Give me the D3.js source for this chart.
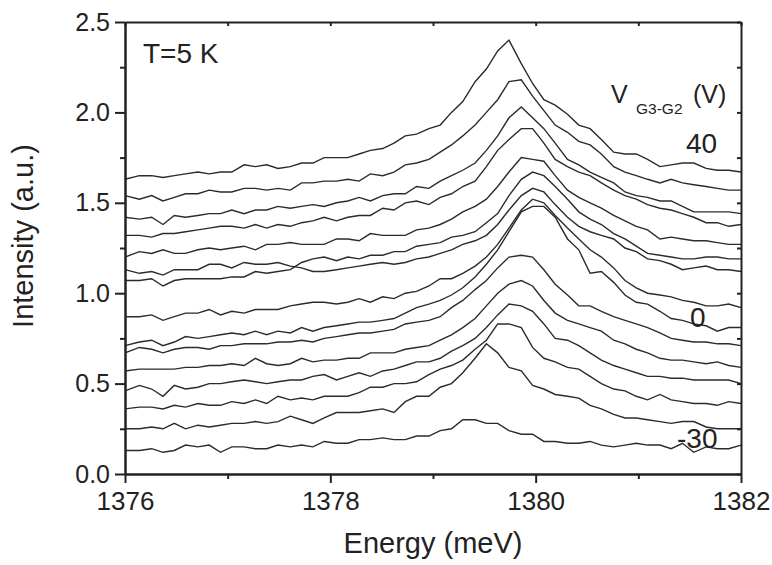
<!DOCTYPE html>
<meta charset="utf-8">
<style>
body { margin: 0; background: #fff; }
svg text { font-family: "Liberation Sans", Arial, sans-serif; fill: #222; }
.curve { fill: none; stroke: #2b2b2b; stroke-width: 1.4; }
.axis path, .axis line { stroke: #222; stroke-width: 2; }
</style>
<svg width="772" height="565"></svg>
<script src="https://d3js.org/d3.v7.min.js"></script>
<script>

// photon energy (meV), shared by every spectrum
var energy = [1376.00,1376.14,1376.26,1376.37,1376.48,1376.59,1376.71,1376.82,1376.93,1377.04,
  1377.16,1377.27,1377.38,1377.49,1377.61,1377.72,1377.83,1377.94,1378.06,1378.17,
  1378.28,1378.39,1378.51,1378.62,1378.73,1378.84,1378.96,1379.07,1379.18,1379.29,
  1379.41,1379.52,1379.63,1379.74,1379.86,1379.97,1380.08,1380.19,1380.31,1380.42,
  1380.53,1380.64,1380.76,1380.87,1380.98,1381.09,1381.21,1381.32,1381.43,1381.54,
  1381.66,1381.77,1381.88,1382.00];

// PL intensity (a.u., offset) for each gate voltage V_G3-G2
var s40 = [1.63,1.65,1.65,1.64,1.65,1.66,1.67,1.66,1.67,1.67,1.71,1.70,1.71,1.69,1.70,1.72,1.72,1.75,1.75,1.75,1.77,1.79,1.80,1.83,1.87,1.88,1.91,
  1.93,2.00,2.06,2.17,2.24,2.34,2.40,2.27,2.16,2.07,2.04,1.99,1.93,1.91,1.85,1.78,1.77,1.77,1.74,
  1.70,1.71,1.72,1.72,1.69,1.68,1.68,1.67];
var s35 = [1.54,1.52,1.54,1.51,1.53,1.55,1.55,1.57,1.56,1.56,1.58,1.58,1.57,1.58,1.57,1.61,1.61,1.62,1.62,1.63,1.62,1.66,1.65,1.67,1.71,1.72,1.74,
  1.78,1.82,1.87,1.93,2.00,2.07,2.17,2.18,2.09,2.01,1.93,1.89,1.84,1.82,1.77,1.70,1.67,1.65,1.63,
  1.61,1.63,1.61,1.60,1.59,1.58,1.57,1.57];
var s30 = [1.42,1.41,1.42,1.38,1.43,1.42,1.43,1.44,1.44,1.46,1.44,1.46,1.46,1.48,1.47,1.48,1.49,1.48,1.50,1.51,1.53,1.51,1.54,1.55,1.55,1.59,1.58,
  1.62,1.65,1.68,1.72,1.79,1.87,1.97,2.03,1.97,1.91,1.83,1.74,1.71,1.67,1.64,1.61,1.56,1.54,1.53,
  1.51,1.51,1.48,1.45,1.45,1.45,1.45,1.44];
var s25 = [1.32,1.32,1.31,1.33,1.33,1.34,1.35,1.36,1.37,1.37,1.36,1.38,1.36,1.38,1.37,1.39,1.40,1.42,1.40,1.42,1.43,1.43,1.47,1.46,1.50,1.51,1.49,
  1.53,1.55,1.59,1.62,1.70,1.79,1.85,1.91,1.91,1.83,1.74,1.70,1.67,1.65,1.61,1.57,1.54,1.52,1.49,
  1.47,1.46,1.44,1.42,1.39,1.39,1.37,1.38];
var s20 = [1.20,1.23,1.22,1.24,1.22,1.22,1.24,1.25,1.24,1.25,1.26,1.24,1.27,1.27,1.28,1.27,1.27,1.27,1.30,1.30,1.29,1.33,1.32,1.32,1.32,1.35,1.36,
  1.38,1.41,1.45,1.48,1.52,1.59,1.67,1.75,1.74,1.73,1.65,1.57,1.53,1.50,1.47,1.43,1.40,1.37,1.35,
  1.30,1.31,1.30,1.29,1.29,1.28,1.27,1.27];
var s15 = [1.07,1.07,1.08,1.04,1.07,1.08,1.08,1.08,1.08,1.09,1.09,1.12,1.11,1.12,1.13,1.17,1.19,1.20,1.18,1.20,1.19,1.21,1.21,1.23,1.23,1.26,1.27,
  1.28,1.31,1.32,1.34,1.39,1.44,1.54,1.63,1.67,1.65,1.59,1.52,1.45,1.41,1.38,1.33,1.30,1.26,1.22,
  1.21,1.20,1.19,1.19,1.20,1.20,1.19,1.19];
var s10 = [1.13,1.11,1.12,1.10,1.13,1.13,1.13,1.16,1.16,1.14,1.17,1.16,1.16,1.17,1.15,1.14,1.12,1.12,1.13,1.14,1.15,1.16,1.17,1.16,1.17,1.19,1.20,
  1.22,1.24,1.27,1.29,1.32,1.38,1.46,1.54,1.58,1.56,1.49,1.42,1.37,1.34,1.32,1.30,1.25,1.23,1.19,
  1.18,1.16,1.13,1.14,1.15,1.13,1.13,1.12];
var s5 = [0.87,0.87,0.88,0.85,0.87,0.89,0.89,0.91,0.88,0.90,0.89,0.91,0.91,0.91,0.93,0.94,0.95,0.95,0.94,0.95,0.97,0.95,0.98,0.97,1.00,1.01,1.04,
  1.08,1.08,1.11,1.15,1.20,1.27,1.36,1.46,1.52,1.50,1.43,1.36,1.30,1.24,1.20,1.14,1.07,1.03,1.00,
  0.99,0.98,0.96,0.95,0.93,0.93,0.94,0.92];
var s0 = [0.71,0.73,0.74,0.71,0.73,0.76,0.75,0.76,0.77,0.78,0.77,0.79,0.77,0.79,0.78,0.81,0.79,0.81,0.82,0.83,0.84,0.84,0.85,0.86,0.89,0.92,0.94,
  0.96,0.99,1.03,1.09,1.16,1.24,1.34,1.45,1.48,1.48,1.42,1.30,1.24,1.11,1.12,1.06,0.99,0.95,0.94,
  0.90,0.86,0.85,0.83,0.82,0.79,0.81,0.81];
var sm5 = [0.67,0.70,0.69,0.67,0.69,0.70,0.70,0.69,0.71,0.71,0.72,0.72,0.72,0.73,0.73,0.74,0.73,0.75,0.76,0.77,0.78,0.78,0.79,0.80,0.83,0.84,0.85,
  0.87,0.92,0.96,1.02,1.07,1.14,1.20,1.21,1.20,1.13,1.05,0.99,0.93,0.93,0.90,0.87,0.85,0.83,0.81,
  0.78,0.75,0.74,0.73,0.73,0.72,0.72,0.71];
var sm10 = [0.57,0.58,0.58,0.58,0.58,0.59,0.59,0.60,0.60,0.61,0.60,0.64,0.61,0.60,0.61,0.64,0.62,0.63,0.63,0.64,0.64,0.67,0.67,0.67,0.69,0.70,0.71,
  0.74,0.77,0.81,0.86,0.93,1.00,1.05,1.07,1.04,0.96,0.89,0.85,0.83,0.81,0.79,0.74,0.72,0.69,0.67,
  0.64,0.63,0.63,0.62,0.61,0.62,0.60,0.59];
var sm15 = [0.46,0.49,0.47,0.43,0.49,0.47,0.48,0.50,0.50,0.51,0.52,0.51,0.50,0.51,0.52,0.52,0.54,0.55,0.52,0.54,0.56,0.54,0.57,0.58,0.60,0.62,0.62,
  0.64,0.68,0.71,0.75,0.81,0.88,0.94,0.93,0.90,0.83,0.75,0.74,0.71,0.67,0.63,0.60,0.58,0.56,0.54,
  0.54,0.53,0.53,0.52,0.52,0.52,0.52,0.50];
var sm20 = [0.36,0.37,0.37,0.36,0.38,0.37,0.39,0.38,0.38,0.40,0.39,0.41,0.39,0.43,0.41,0.42,0.41,0.43,0.43,0.43,0.45,0.48,0.48,0.50,0.50,0.51,0.55,
  0.58,0.60,0.63,0.69,0.74,0.83,0.83,0.81,0.70,0.64,0.62,0.59,0.58,0.54,0.50,0.47,0.46,0.43,0.41,
  0.44,0.41,0.40,0.39,0.39,0.38,0.40,0.39];
var sm25 = [0.25,0.25,0.26,0.25,0.28,0.25,0.27,0.26,0.27,0.28,0.28,0.29,0.28,0.29,0.32,0.30,0.28,0.31,0.34,0.34,0.34,0.35,0.36,0.34,0.40,0.43,0.43,
  0.48,0.50,0.56,0.64,0.72,0.67,0.59,0.57,0.49,0.47,0.44,0.43,0.42,0.38,0.36,0.33,0.31,0.31,0.30,
  0.29,0.28,0.29,0.29,0.26,0.25,0.25,0.25];
var sm30 = [0.13,0.13,0.14,0.12,0.13,0.16,0.15,0.16,0.12,0.15,0.15,0.14,0.14,0.16,0.15,0.16,0.15,0.18,0.17,0.17,0.19,0.19,0.20,0.19,0.19,0.21,0.21,
  0.24,0.25,0.30,0.30,0.28,0.28,0.24,0.22,0.22,0.18,0.18,0.17,0.17,0.18,0.16,0.15,0.16,0.17,0.16,
  0.16,0.14,0.17,0.12,0.15,0.14,0.14,0.16];

var spectra = [s40, s35, s30, s25, s20, s15, s10, s5, s0, sm5, sm10, sm15, sm20, sm25, sm30];

var xMajor = [1376, 1378, 1380, 1382];
var xMinor = [1377, 1379, 1381];
var yMajor = [0, 0.5, 1.0, 1.5, 2.0, 2.5];
var yMinor = [0.25, 0.75, 1.25, 1.75, 2.25];

var svg = d3.select("svg");
var x = d3.scaleLinear().domain([1376, 1382]).range([125, 741]);
var y = d3.scaleLinear().domain([0, 2.5]).range([474, 22]);

// spectra
var line = d3.line()
  .x(function(d, i) { return x(energy[i]); })
  .y(function(d) { return y(d); });

svg.append("g").selectAll("path")
  .data(spectra)
  .enter().append("path")
  .attr("class", "curve")
  .attr("d", line);

function styleAxis(g, size) {
  g.attr("class", "axis").attr("font-family", null).attr("font-size", size);
  g.selectAll("text").attr("fill", "#222");
}

// bottom axis
svg.append("g").attr("transform", "translate(0,474)")
  .call(d3.axisBottom(x).tickValues(xMajor).tickFormat(d3.format("d")).tickSizeInner(9).tickSizeOuter(0).tickPadding(9))
  .call(styleAxis, 26);
svg.append("g").attr("transform", "translate(0,474)")
  .call(d3.axisBottom(x).tickValues(xMinor).tickFormat("").tickSizeInner(5).tickSizeOuter(0))
  .call(styleAxis, 26);
// top axis, ticks inward
svg.append("g").attr("transform", "translate(0,22)")
  .call(d3.axisTop(x).tickValues(xMajor.concat(xMinor)).tickFormat("").tickSizeInner(-4).tickSizeOuter(0))
  .call(styleAxis, 26);
// left axis
svg.append("g").attr("transform", "translate(125,0)")
  .call(d3.axisLeft(y).tickValues(yMajor).tickFormat(d3.format(".1f")).tickSizeInner(10).tickSizeOuter(0).tickPadding(5))
  .call(styleAxis, 25);
svg.append("g").attr("transform", "translate(125,0)")
  .call(d3.axisLeft(y).tickValues(yMinor).tickFormat("").tickSizeInner(5).tickSizeOuter(0))
  .call(styleAxis, 25);
// right axis, ticks inward
svg.append("g").attr("transform", "translate(741,0)")
  .call(d3.axisRight(y).tickValues(yMajor.concat(yMinor)).tickFormat("").tickSizeInner(-4).tickSizeOuter(0))
  .call(styleAxis, 25);

// axis titles
svg.append("text")
  .attr("x", 433).attr("y", 553)
  .attr("text-anchor", "middle")
  .attr("font-size", 29)
  .text("Energy (meV)");
svg.append("text")
  .attr("transform", "translate(33,236) rotate(-90)")
  .attr("text-anchor", "middle")
  .attr("font-size", 29)
  .text("Intensity (a.u.)");

// annotations
svg.append("text").attr("x", 143).attr("y", 63).attr("font-size", 28).text("T=5 K");

var vt = svg.append("text").attr("x", 611).attr("y", 103).attr("font-size", 25);
vt.append("tspan").text("V");
vt.append("tspan").attr("x", 636).attr("y", 114).attr("font-size", 15.5).text("G3-G2");
vt.append("tspan").attr("x", 693).attr("y", 103).text("(V)");

svg.append("text").attr("x", 686).attr("y", 153).attr("font-size", 28).text("40");
svg.append("text").attr("x", 690).attr("y", 327).attr("font-size", 28).text("0");
svg.append("text").attr("x", 677).attr("y", 448).attr("font-size", 28).text("-30");

</script>
